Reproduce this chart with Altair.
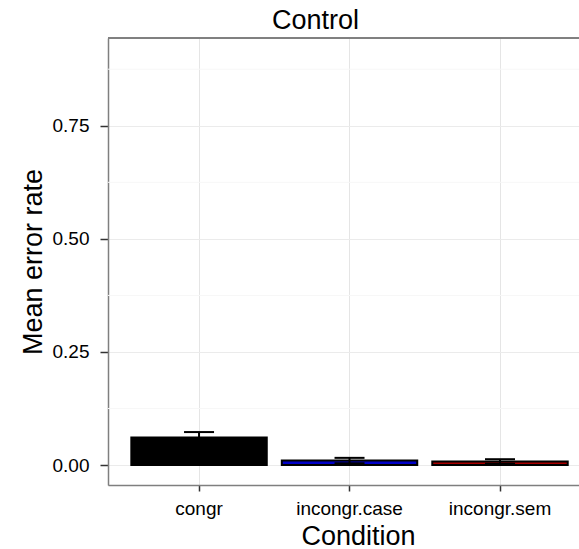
import altair as alt
import pandas as pd

conditions = ["congr", "incongr.case", "incongr.sem"]
means = [0.061, 0.010, 0.008]
ses = [0.012, 0.006, 0.005]
fills = ["#000000", "#0000C8", "#A80000"]
minor_ticks = [0.125, 0.375, 0.625, 0.875]
major_ticks = [0.0, 0.25, 0.5, 0.75]

df = pd.DataFrame({
    "Condition": conditions,
    "mean": means,
    "lo": [m - s for m, s in zip(means, ses)],
    "hi": [m + s for m, s in zip(means, ses)],
})
minor_df = pd.DataFrame({"v": minor_ticks})

W, H = 471, 447
FONT = "Liberation Sans"

xscale = alt.Scale(domain=conditions, paddingInner=0.1, paddingOuter=0.115, align=0.674)
yscale = alt.Scale(domain=[-0.044, 0.944], nice=False, zero=False)

xaxis = alt.Axis(
    title="Condition", titleFontSize=27, titleFont=FONT, titleFontWeight="normal",
    titleColor="black", titleX=250, titleY=59, titleBaseline="alphabetic", titleAlign="center",
    labelFontSize=19, labelFont=FONT, labelColor="black", labelAngle=0, labelPadding=8,
    tickColor="#333333", tickSize=6, tickWidth=1.5,
    grid=True, gridColor="#E5E5E5", gridWidth=1, bandPosition=0.5,
    domainColor="#7F7F7F", domainWidth=1.5,
)
yaxis = alt.Axis(
    title="Mean error rate", titleFontSize=27, titleFont=FONT, titleFontWeight="normal",
    titleColor="black", titleX=-75, titleY=H / 2, titleAngle=270, titleAlign="center",
    titleBaseline="middle",
    values=major_ticks, format=".2f",
    labelFontSize=19, labelFont=FONT, labelColor="black", labelPadding=11,
    tickColor="#333333", tickSize=8, tickWidth=1.5,
    grid=True, gridColor="#EBEBEB", gridWidth=1,
    domainColor="#7F7F7F", domainWidth=1.5,
)

minor = alt.Chart(minor_df).mark_rule(color="#F7F7F7", strokeWidth=1).encode(
    y=alt.Y("v:Q", scale=yscale, axis=yaxis)
)

bars = alt.Chart(df).mark_bar(stroke="black", strokeWidth=2).encode(
    x=alt.X("Condition:N", scale=xscale, axis=xaxis, sort=conditions),
    y=alt.Y("mean:Q", scale=yscale, axis=yaxis),
    fill=alt.Fill("Condition:N", scale=alt.Scale(domain=conditions, range=fills), legend=None),
)

err_rule = alt.Chart(df).mark_rule(color="black", strokeWidth=2).encode(
    x=alt.X("Condition:N", scale=xscale, sort=conditions),
    y=alt.Y("lo:Q", scale=yscale),
    y2="hi:Q",
)
err_hi = alt.Chart(df).mark_tick(color="black", size=30, thickness=2, opacity=1).encode(
    x=alt.X("Condition:N", scale=xscale, sort=conditions),
    y=alt.Y("hi:Q", scale=yscale),
)
err_lo = alt.Chart(df).mark_tick(color="black", size=30, thickness=2, opacity=1).encode(
    x=alt.X("Condition:N", scale=xscale, sort=conditions),
    y=alt.Y("lo:Q", scale=yscale),
)

top_border = alt.Chart(df).mark_rule(color="#7F7F7F", strokeWidth=1.5).encode(
    x=alt.value(0), x2=alt.value(W + 5), y=alt.value(0)
)

chart = alt.layer(minor, bars, err_rule, err_hi, err_lo, top_border).properties(
    width=W, height=H,
    title=alt.Title("Control", fontSize=27, font=FONT, fontWeight="normal", color="black",
                    anchor="middle", dx=-28, offset=2),
    autosize=alt.AutoSizeParams(type="none"),
    padding={"left": 108, "top": 38, "right": 0, "bottom": 64},
).configure_view(stroke=None).configure(background="white")

chart.save("out.html", embed_options={"renderer": "svg", "actions": False})
